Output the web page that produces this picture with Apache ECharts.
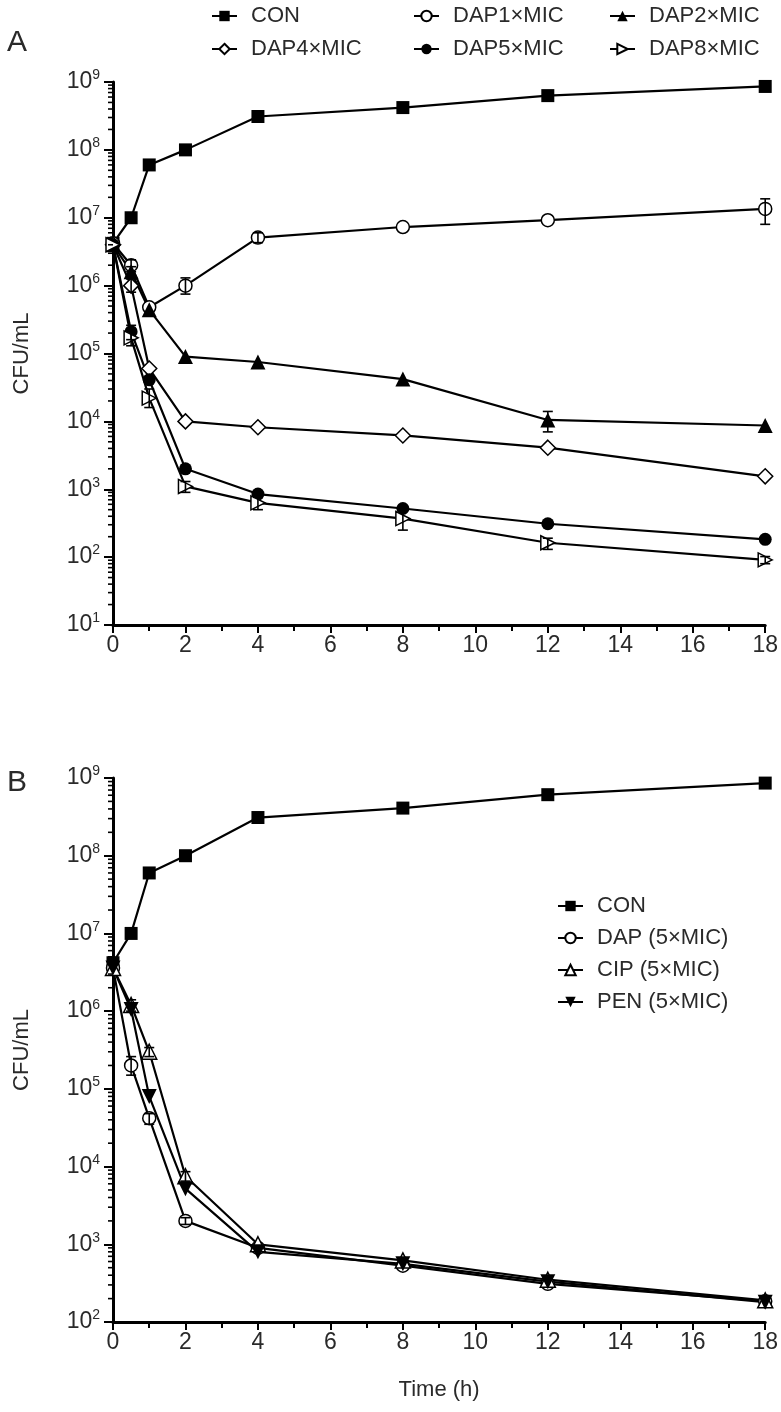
<!DOCTYPE html>
<html><head><meta charset="utf-8">
<script src="https://cdn.jsdelivr.net/npm/echarts@6/dist/echarts.min.js"></script>
<style>html,body{margin:0;padding:0;background:#fff}#c{width:781px;height:1412px}</style>
</head><body><div id="c"></div>
<script>
// ---- data ----
const times = [0, 0.5, 1, 2, 4, 8, 12, 18];
// Panel A
const aCON  = [4.2e6, 1.0e7, 6.0e7, 1.0e8, 3.1e8, 4.2e8, 6.3e8, 8.6e8];
const aDAP1 = [4.2e6, 2.0e6, 4.8e5, 1.0e6, 5.1e6, 7.3e6, 9.2e6, 1.35e7];
const aDAP2 = [4.0e6, 1.6e6, 4.4e5, 9.0e4, 7.5e4, 4.2e4, 1.05e4, 8.7e3];
const aDAP4 = [4.0e6, 1.0e6, 6.0e4, 1.0e4, 8.2e3, 6.2e3, 4.1e3, 1.55e3];
const aDAP5 = [4.0e6, 2.1e5, 4.1e4, 2.0e3, 850, 520, 310, 183];
const aDAP8 = [4.0e6, 1.7e5, 2.2e4, 1.1e3, 630, 370, 163, 91];
// error bars [time, low, high]
const aDAP1Err = [[0.5, 1.6e6, 2.4e6], [2, 7.5e5, 1.3e6], [4, 4.3e6, 6.0e6], [18, 8.0e6, 1.9e7]];
const aDAP2Err = [[0.5, 1.3e6, 1.9e6], [12, 7.0e3, 1.4e4]];
const aDAP4Err = [[0.5, 8.0e5, 1.25e6]];
const aDAP5Err = [[0.5, 1.6e5, 2.6e5]];
const aDAP8Err = [[0.5, 1.3e5, 2.3e5], [1, 1.6e4, 3.0e4], [2, 9.0e2, 1.3e3], [4, 5.0e2, 7.6e2], [8, 2.5e2, 4.8e2], [12, 1.3e2, 1.9e2], [18, 80, 102]];
// Panel B
const bCON = [4.2e6, 1.0e7, 6.0e7, 1.0e8, 3.1e8, 4.1e8, 6.1e8, 8.6e8];
const bDAP = [3.6e6, 2.0e5, 4.2e4, 2.0e3, 900, 530, 310, 185];
const bCIP = [3.6e6, 1.2e6, 3.0e5, 7.5e3, 1.0e3, 620, 350, 190];
const bPEN = [3.6e6, 1.05e6, 8.0e4, 5.2e3, 800, 560, 330, 180];
const bDAPErr = [[0.5, 1.5e5, 2.6e5], [1, 3.5e4, 4.8e4], [2, 1.8e3, 2.2e3]];
const bCIPErr = [[0.5, 1.0e6, 1.4e6], [1, 2.6e5, 3.4e5], [2, 6.5e3, 8.6e3]];
// axes
const aYMin = 10, aYMax = 1e9, bYMin = 100, bYMax = 1e9;
const xTickLabels = [0, 2, 4, 6, 8, 10, 12, 14, 16, 18];
const xName = 'Time (h)', yName = 'CFU/mL';
const namesA = ['CON', 'DAP1×MIC', 'DAP2×MIC', 'DAP4×MIC', 'DAP5×MIC', 'DAP8×MIC'];
const namesB = ['CON', 'DAP (5×MIC)', 'CIP (5×MIC)', 'PEN (5×MIC)'];

// ---- chart ----
const FONT = "'Liberation Sans', Arial, sans-serif";
const TXT = '#2a2a2a';
const pair = ys => times.map((t, i) => [t, ys[i]]);
function minorVals(lo, hi) {
  const out = [];
  for (let e = Math.round(Math.log10(lo)); e < Math.round(Math.log10(hi)); e++)
    for (let k = 2; k <= 9; k++) out.push([0, k * Math.pow(10, e)]);
  return out;
}
function lineSeries(name, ys, gi, symbol, filled, rot, size) {
  return {
    type: 'line', name, data: pair(ys), xAxisIndex: gi, yAxisIndex: gi,
    symbol, symbolSize: size || 13, symbolRotate: rot || 0, clip: false, z: 3,
    lineStyle: { color: '#000', width: 2.2 },
    itemStyle: { color: filled ? '#000' : '#fff', borderColor: '#000', borderWidth: filled ? 0 : 1.5 },
    emphasis: { disabled: true }
  };
}
function errSeries(data, gi) {
  return {
    type: 'custom', xAxisIndex: gi, yAxisIndex: gi, data, z: 5, clip: false,
    encode: { x: 0, y: [1, 2] },
    renderItem(params, api) {
      const x = api.value(0);
      const p1 = api.coord([x, api.value(1)]), p2 = api.coord([x, api.value(2)]);
      const w = 5, st = { stroke: '#000', lineWidth: 1.6 };
      return { type: 'group', children: [
        { type: 'line', shape: { x1: p1[0], y1: p1[1], x2: p2[0], y2: p2[1] }, style: st },
        { type: 'line', shape: { x1: p1[0] - w, y1: p1[1], x2: p1[0] + w, y2: p1[1] }, style: st },
        { type: 'line', shape: { x1: p2[0] - w, y1: p2[1], x2: p2[0] + w, y2: p2[1] }, style: st }
      ]};
    }
  };
}
function minorTickSeries(lo, hi, gi) {
  return {
    type: 'custom', xAxisIndex: gi, yAxisIndex: gi, data: minorVals(lo, hi), z: 4, clip: false, silent: true,
    renderItem(params, api) {
      const p = api.coord([0, api.value(1)]);
      return { type: 'line', shape: { x1: p[0] - 5, y1: p[1], x2: p[0], y2: p[1] }, style: { stroke: '#000', lineWidth: 1.6 } };
    }
  };
}
function yAxis(gi, lo, hi) {
  return {
    type: 'log', gridIndex: gi, min: lo, max: hi, logBase: 10,
    name: yName, nameLocation: 'middle', nameGap: 80, nameRotate: 90,
    nameTextStyle: { fontFamily: FONT, fontSize: 22, color: TXT },
    axisLine: { show: true, lineStyle: { color: '#000', width: 3 } },
    axisTick: { show: true, length: 9, lineStyle: { color: '#000', width: 2 } },
    splitLine: { show: false },
    axisLabel: {
      margin: 13,
      formatter: v => '{b|10}{s|' + Math.round(Math.log10(v)) + '}',
      rich: {
        b: { fontFamily: FONT, fontSize: 23, color: TXT },
        s: { fontFamily: FONT, fontSize: 14, color: TXT, verticalAlign: 'top', padding: [0, 0, 13, 0] }
      }
    }
  };
}
function xAxis(gi, withName) {
  return {
    type: 'value', gridIndex: gi, min: 0, max: 18, interval: 2,
    name: withName ? xName : '', nameLocation: 'middle', nameGap: 57,
    nameTextStyle: { fontFamily: FONT, fontSize: 22, color: TXT },
    axisLine: { show: true, lineStyle: { color: '#000', width: 3 } },
    axisTick: { show: true, length: 8, lineStyle: { color: '#000', width: 2 } },
    minorTick: { show: true, splitNumber: 2, length: 6, lineStyle: { color: '#000', width: 2 } },
    splitLine: { show: false },
    axisLabel: { fontFamily: FONT, fontSize: 23, color: TXT, margin: 9,
      formatter: v => xTickLabels.includes(v) ? String(v) : '' }
  };
}
const legendText = { fontFamily: FONT, fontSize: 22, color: TXT, padding: [0, 0, 0, 9] };
function legendCol(data, left, top, gap) {
  return { data, left, top, orient: 'vertical', itemGap: gap, itemWidth: 25, itemHeight: 13,
    textStyle: legendText, selectedMode: false, padding: 0 };
}

const option = {
  animation: false,
  grid: [
    { left: 113, right: 14, top: 82, height: 543 },
    { left: 113, right: 14, top: 778, height: 544 }
  ],
  xAxis: [xAxis(0, false), xAxis(1, true)],
  yAxis: [yAxis(0, aYMin, aYMax), yAxis(1, bYMin, bYMax)],
  legend: [
    legendCol([namesA[0], namesA[3]], 211, 5, 11),
    legendCol([namesA[1], namesA[4]], 413, 5, 11),
    legendCol([namesA[2], namesA[5]], 609, 5, 11),
    legendCol(namesB, 557, 895, 10)
  ],
  graphic: [
    { type: 'text', left: 7, top: 28, style: { text: 'A', font: '30px ' + FONT, fill: TXT } },
    { type: 'text', left: 7, top: 768, style: { text: 'B', font: '30px ' + FONT, fill: TXT } }
  ],
  series: [
    minorTickSeries(aYMin, aYMax, 0),
    minorTickSeries(bYMin, bYMax, 1),
    lineSeries(namesA[0], aCON, 0, 'rect', true),
    lineSeries(namesA[1], aDAP1, 0, 'circle', false),
    lineSeries(namesA[2], aDAP2, 0, 'triangle', true, 0, 15),
    lineSeries(namesA[3], aDAP4, 0, 'diamond', false, 0, 15),
    lineSeries(namesA[4], aDAP5, 0, 'circle', true),
    lineSeries(namesA[5], aDAP8, 0, 'triangle', false, -90, 14),
    errSeries(aDAP1Err, 0), errSeries(aDAP2Err, 0), errSeries(aDAP4Err, 0),
    errSeries(aDAP5Err, 0), errSeries(aDAP8Err, 0),
    lineSeries(namesB[0], bCON, 1, 'rect', true),
    lineSeries(namesB[1], bDAP, 1, 'circle', false),
    lineSeries(namesB[2], bCIP, 1, 'triangle', false, 0, 15),
    lineSeries(namesB[3], bPEN, 1, 'triangle', true, 180, 15),
    errSeries(bDAPErr, 1), errSeries(bCIPErr, 1)
  ]
};
const chart = echarts.init(document.getElementById('c'), null, { renderer: 'canvas' });
chart.setOption(option);
</script>
</body></html>
